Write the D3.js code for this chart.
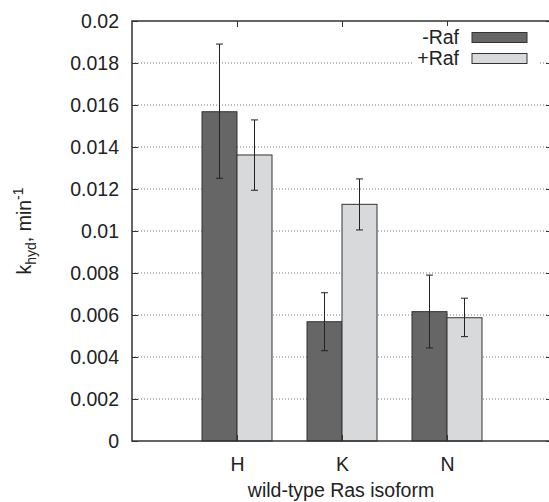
<!DOCTYPE html>
<html>
<head>
<meta charset="utf-8">
<script src="https://cdn.jsdelivr.net/npm/d3@7"></script>
<style>
body { margin: 0; background: #fff; }
svg { display: block; font-family: "Liberation Sans", Arial, sans-serif; }
.grid line { stroke: #777; stroke-dasharray: 1,2; }
.ax path { display: none; }
.ax line { stroke: #333; }
.ax text { font-size: 19.5px; fill: #222; }
</style>
</head>
<body>
<svg width="549" height="502"></svg>
<script>
var categories = ["H", "K", "N"];
var seriesNames = ["-Raf", "+Raf"];
var minusRaf = [0.01568, 0.00568, 0.00616];
var plusRaf = [0.01362, 0.01127, 0.00587];
var minusErr = [[0.01251, 0.01890], [0.00430, 0.00706], [0.00443, 0.00790]];
var plusErr = [[0.01194, 0.01529], [0.01005, 0.01248], [0.00497, 0.00680]];
var yTicks = [0, 0.002, 0.004, 0.006, 0.008, 0.01, 0.012, 0.014, 0.016, 0.018, 0.02];
var colors = ["#666666", "#d8d9da"];

var margin = {left: 132, top: 21, right: 552, bottom: 441};

var svg = d3.select("svg");

var x = d3.scaleLinear().domain([0, 4]).range([margin.left, margin.right]);
var y = d3.scaleLinear().domain([0, 0.02]).range([margin.bottom, margin.top]);

// grid
svg.append("g").attr("class", "grid")
  .selectAll("line").data(yTicks.slice(1, -1))
  .enter().append("line")
    .attr("x1", margin.left).attr("x2", margin.right)
    .attr("y1", function(d) { return y(d); })
    .attr("y2", function(d) { return y(d); });

// bars
var series = [minusRaf, plusRaf];
var errs = [minusErr, plusErr];
var bw = 1 / 3;
series.forEach(function(vals, s) {
  var g = svg.append("g");
  g.selectAll("rect").data(vals).enter().append("rect")
    .attr("x", function(d, i) { return x(i + 1 - bw + s * bw); })
    .attr("y", function(d) { return y(d); })
    .attr("width", x(bw) - x(0))
    .attr("height", function(d) { return y(0) - y(d); })
    .attr("fill", colors[s])
    .attr("stroke", "#333")
    .attr("stroke-width", 1);

  var e = g.selectAll(".err").data(errs[s]).enter().append("g")
    .attr("transform", function(d, i) {
      return "translate(" + x(i + 1 - bw / 2 + s * bw) + ",0)"; });
  e.append("line")
    .attr("y1", function(d) { return y(d[0]); })
    .attr("y2", function(d) { return y(d[1]); })
    .attr("stroke", "#222");
  e.selectAll(".cap").data(function(d) { return d; }).enter().append("line")
    .attr("x1", -3.5).attr("x2", 3.5)
    .attr("y1", function(d) { return y(d); })
    .attr("y2", function(d) { return y(d); })
    .attr("stroke", "#222");
});

// axes
svg.append("g").attr("class", "ax")
  .attr("transform", "translate(" + margin.left + ",0)")
  .call(d3.axisLeft(y).tickValues(yTicks).tickSizeInner(-6).tickPadding(13)
    .tickFormat(function(d) { return d3.format("~g")(d); }));
svg.append("g").attr("class", "ax")
  .attr("transform", "translate(" + margin.right + ",0)")
  .call(d3.axisRight(y).tickValues(yTicks).tickSizeInner(-6).tickFormat(""));
svg.append("g").attr("class", "ax")
  .attr("transform", "translate(0," + margin.bottom + ")")
  .call(d3.axisBottom(x).tickValues([1, 2, 3]).tickSizeInner(-6).tickPadding(16)
    .tickFormat(function(d) { return categories[d - 1]; }));
svg.append("g").attr("class", "ax")
  .attr("transform", "translate(0," + margin.top + ")")
  .call(d3.axisTop(x).tickValues([1, 2, 3]).tickSizeInner(-6).tickFormat(""));

// frame
svg.append("rect")
  .attr("x", margin.left).attr("y", margin.top)
  .attr("width", margin.right - margin.left)
  .attr("height", margin.bottom - margin.top)
  .attr("fill", "none").attr("stroke", "#333").attr("stroke-width", 1.5);

// legend
var leg = svg.append("g");
leg.append("rect").attr("x", 413).attr("y", 26).attr("width", 125).attr("height", 42)
  .attr("fill", "#fff");
seriesNames.forEach(function(n, i) {
  var cy = 37.5 + i * 21;
  leg.append("text").attr("x", 459).attr("y", cy).attr("dy", "0.35em")
    .attr("text-anchor", "end").attr("font-size", "19.5px").attr("fill", "#222")
    .text(n);
  leg.append("rect").attr("x", 472).attr("y", cy - 5).attr("width", 55).attr("height", 10)
    .attr("fill", colors[i]).attr("stroke", "#333").attr("stroke-width", 1);
});

// axis titles
svg.append("text").attr("x", 341).attr("y", 497).attr("text-anchor", "middle")
  .attr("font-size", "19.5px").attr("fill", "#222").text("wild-type Ras isoform");

var yl = svg.append("text")
  .attr("transform", "translate(31,231) rotate(-90)")
  .attr("text-anchor", "middle").attr("font-size", "19.5px").attr("fill", "#222");
yl.append("tspan").text("k");
yl.append("tspan").attr("font-size", "14px").attr("dy", 5).text("hyd");
yl.append("tspan").attr("dy", -5).text(", min");
yl.append("tspan").attr("font-size", "14px").attr("dy", -8).text("-1");
</script>
</body>
</html>
